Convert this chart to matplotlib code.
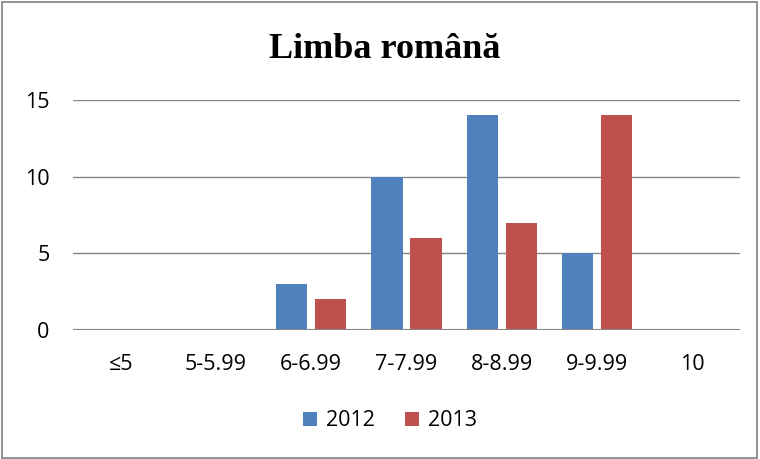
import numpy as np
import matplotlib
matplotlib.use('Agg')
import matplotlib.pyplot as plt
from matplotlib.patches import Rectangle

# Data
categories = ['≤5', '5-5.99', '6-6.99', '7-7.99', '8-8.99', '9-9.99', '10']
years = ['2012', '2013']
values_2012 = [0, 0, 3, 10, 14, 5, 0]
values_2013 = [0, 0, 2, 6, 7, 14, 0]

COLOR_2012 = '#4F81BD'
COLOR_2013 = '#C0504D'
GRID = '#868686'
FONT = ['Open Sans', 'DejaVu Sans']

fig = plt.figure(figsize=(7.6, 4.59), dpi=100)
ax = fig.add_axes([73 / 760, 129 / 459, 667 / 760, 230 / 459])

x = np.arange(len(categories))
w = 0.33
off = 0.205
ax.bar(x - off, values_2012, width=w, color=COLOR_2012, label=years[0], zorder=3)
ax.bar(x + off, values_2013, width=w, color=COLOR_2013, label=years[1], zorder=3)

ax.set_xlim(-0.5, len(categories) - 0.5)
ax.set_ylim(0, 15)
ax.set_yticks([0, 5, 10, 15])
ax.set_xticks(x)
ax.set_xticklabels(categories)
ax.yaxis.grid(True, color=GRID, lw=1, zorder=0)
for s in ax.spines.values():
    s.set_visible(False)
ax.axhline(0, color=GRID, lw=1.5, zorder=4)
ax.tick_params(axis='both', length=0, colors='black')
ax.tick_params(axis='y', pad=17)
ax.tick_params(axis='x', pad=17)
for lbl in ax.get_xticklabels() + ax.get_yticklabels():
    lbl.set_family(FONT)
    lbl.set_fontsize(15.5)

fig.text(385 / 760, 1 - 49 / 459, 'Limba română', ha='center', va='center',
         fontsize=26, fontweight='bold', family='Liberation Serif')

leg = fig.legend(loc='center', bbox_to_anchor=(390 / 760, 1 - 421 / 459),
                 ncol=2, frameon=False, handlelength=0.65,
                 handleheight=0.65, columnspacing=1.4, handletextpad=0.4,
                 prop={'family': FONT, 'size': 15.5})

fig.patches.append(Rectangle((2 / 760, 1 / 459), 755 / 760, 456 / 459,
                             transform=fig.transFigure, fill=False,
                             edgecolor='#808080', lw=1.2))

fig.savefig('out.png', dpi=100)
